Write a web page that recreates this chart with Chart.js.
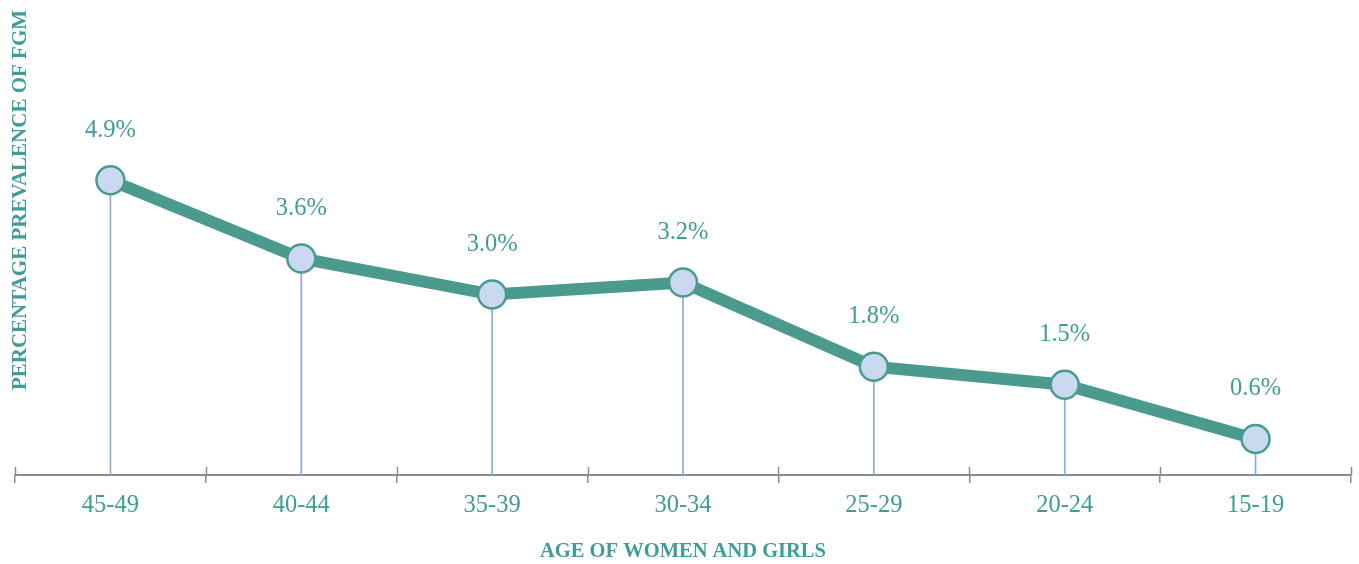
<!DOCTYPE html>
<html>
<head>
<meta charset="utf-8">
<script src="https://cdn.jsdelivr.net/npm/chart.js@4"></script>
<style>
html,body{margin:0;padding:0;background:#fff;}
#wrap{width:1359px;height:564px;position:relative;}
</style>
</head>
<body>
<div id="wrap"><canvas id="c" width="1359" height="564"></canvas></div>
<script>
const categories = ['45-49','40-44','35-39','30-34','25-29','20-24','15-19'];
const prevalence = [4.9, 3.6, 3.0, 3.2, 1.8, 1.5, 0.6];
const valueLabels = ['4.9%','3.6%','3.0%','3.2%','1.8%','1.5%','0.6%'];
const xTitle = 'AGE OF WOMEN AND GIRLS';
const yTitle = 'PERCENTAGE PREVALENCE OF FGM';

const TEAL = '#4a9a8e';
const TEXT = '#3f9c98';
const SERIF = '"Liberation Serif", "Times New Roman", serif';

const extras = {
  id: 'extras',
  afterDatasetsDraw(chart) {
    const ctx = chart.ctx;
    const x = chart.scales.x;
    const area = chart.chartArea;
    ctx.save();
    ctx.strokeStyle = '#8c8c8c';
    ctx.lineWidth = 1.5;
    for (let i = 0; i <= categories.length; i++) {
      const px = Math.round(x.getPixelForValue(i - 0.5)) + 0.5;
      ctx.beginPath();
      ctx.moveTo(px, area.bottom - 8);
      ctx.lineTo(px, area.bottom);
      ctx.stroke();
    }
    const meta = chart.getDatasetMeta(0);
    ctx.fillStyle = TEXT;
    ctx.font = '24.5px ' + SERIF;
    ctx.textAlign = 'center';
    ctx.textBaseline = 'middle';
    meta.data.forEach((pt, i) => {
      ctx.fillText(valueLabels[i], pt.x, pt.y - 50);
    });
    ctx.translate(21, 200);
    ctx.rotate(-Math.PI / 2);
    ctx.font = 'bold 21px ' + SERIF;
    ctx.fillText(yTitle, 0, 0);
    ctx.restore();
  }
};

new Chart(document.getElementById('c'), {
  type: 'line',
  data: {
    labels: categories,
    datasets: [
      {
        type: 'line',
        data: prevalence,
        order: 0,
        borderColor: TEAL,
        borderWidth: 12,
        tension: 0,
        pointRadius: 14,
        pointBorderWidth: 2.5,
        pointBackgroundColor: '#c8d9f0',
        pointBorderColor: TEAL,
        fill: false
      },
      {
        type: 'bar',
        data: prevalence,
        order: 1,
        backgroundColor: '#8eaadb',
        barThickness: 1
      }
    ]
  },
  options: {
    responsive: false,
    animation: false,
    events: [],
    layout: { autoPadding: false, padding: { left: 15, right: 8, top: 54, bottom: 0 } },
    plugins: { legend: { display: false }, tooltip: { enabled: false } },
    scales: {
      x: {
        offset: true,
        grid: {
          offset: true,
          drawOnChartArea: false,
          drawTicks: true,
          tickLength: 8,
          color: '#8c8c8c',
          lineWidth: 1.5
        },
        border: { color: '#8c8c8c', width: 2 },
        ticks: {
          color: TEXT,
          font: { family: SERIF, size: 24.5 },
          padding: 8
        },
        title: {
          display: true,
          text: xTitle,
          color: TEXT,
          font: { family: SERIF, size: 20.5, weight: 'bold' },
          padding: { top: 11, bottom: 0 }
        }
      },
      y: {
        display: false,
        min: 0,
        max: 7
      }
    }
  },
  plugins: [extras]
});
</script>
</body>
</html>
